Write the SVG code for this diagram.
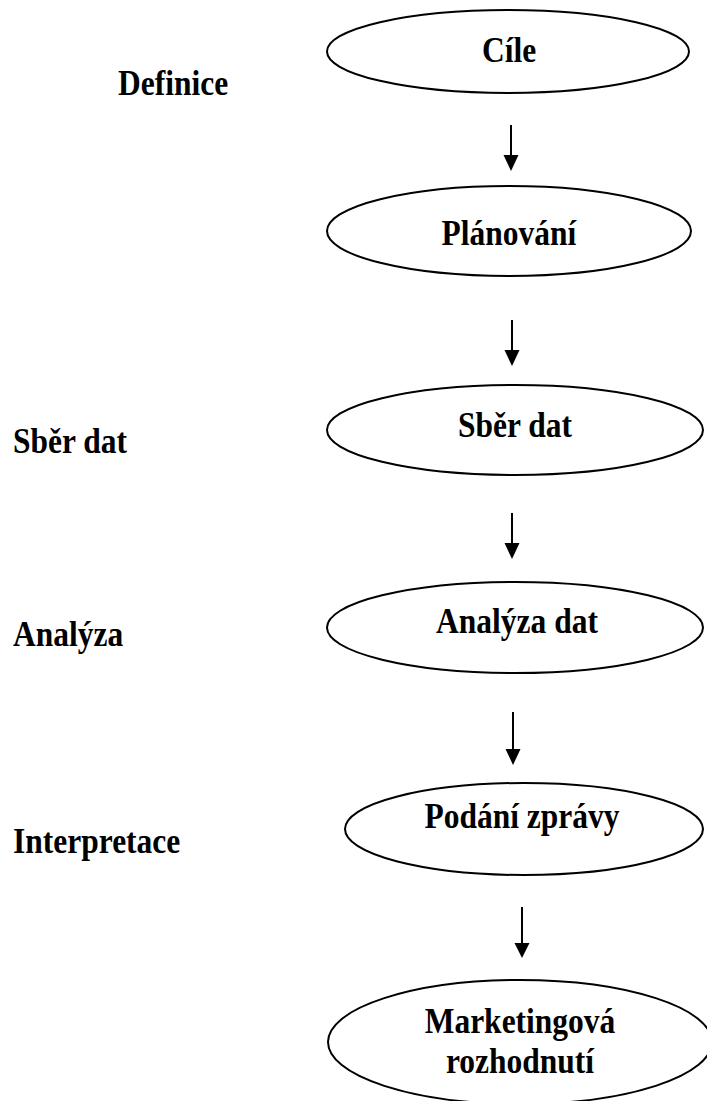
<svg xmlns="http://www.w3.org/2000/svg" width="707" height="1101" viewBox="0 0 707 1101">
<style>
.n{fill:#fff;stroke:#000;stroke-width:2}
.t{font-family:"Liberation Serif","Times New Roman",serif;font-weight:bold;font-size:31.5px;fill:#000}
.m{text-anchor:middle}
.c{stroke:#000;stroke-width:2;fill:none}
.h{fill:#000;stroke:none}
</style>
<rect width="707" height="1101" fill="#fff"/>
<g id="labels">
<text class="t" transform="translate(118,95) scale(1,1.15)">Definice</text>
<text class="t" transform="translate(13,453) scale(1,1.15)">Sběr dat</text>
<text class="t" transform="translate(13,646) scale(1,1.15)">Analýza</text>
<text class="t" transform="translate(13,853) scale(1,1.15)">Interpretace</text>
</g>
<g id="n1"><ellipse class="n" cx="508" cy="51.5" rx="181" ry="41.5"/><text class="t m" transform="translate(509,62) scale(1,1.15)">Cíle</text></g>
<g id="n2"><ellipse class="n" cx="509" cy="231" rx="182" ry="45"/><text class="t m" transform="translate(509,245) scale(1,1.15)">Plánování</text></g>
<g id="n3"><ellipse class="n" cx="515" cy="430" rx="188" ry="45"/><text class="t m" transform="translate(515,437) scale(1,1.15)">Sběr dat</text></g>
<g id="n4"><ellipse class="n" cx="515" cy="627.5" rx="188" ry="45.5"/><text class="t m" transform="translate(517,633) scale(1,1.15)">Analýza dat</text></g>
<g id="n5"><ellipse class="n" cx="524" cy="829" rx="179" ry="46"/><text class="t m" transform="translate(522,828) scale(1,1.15)">Podání zprávy</text></g>
<g id="n6"><ellipse class="n" cx="520" cy="1042" rx="192" ry="62"/><text class="t m" transform="translate(520,1033) scale(1,1.15)">Marketingová</text><text class="t m" transform="translate(520,1073) scale(1,1.15)">rozhodnutí</text></g>
<g id="connectors">
<line class="c" x1="511" y1="125" x2="511" y2="157"/><path class="h" d="M503.5,155 L518.5,155 L511,171 Z"/>
<line class="c" x1="512" y1="320" x2="512" y2="352"/><path class="h" d="M504.5,350 L519.5,350 L512,366 Z"/>
<line class="c" x1="512" y1="513" x2="512" y2="545"/><path class="h" d="M504.5,543 L519.5,543 L512,559 Z"/>
<line class="c" x1="513" y1="712" x2="513" y2="751"/><path class="h" d="M505.5,749 L520.5,749 L513,765 Z"/>
<line class="c" x1="522" y1="907" x2="522" y2="945"/><path class="h" d="M514.5,943 L529.5,943 L522,958 Z"/>
</g>
</svg>
